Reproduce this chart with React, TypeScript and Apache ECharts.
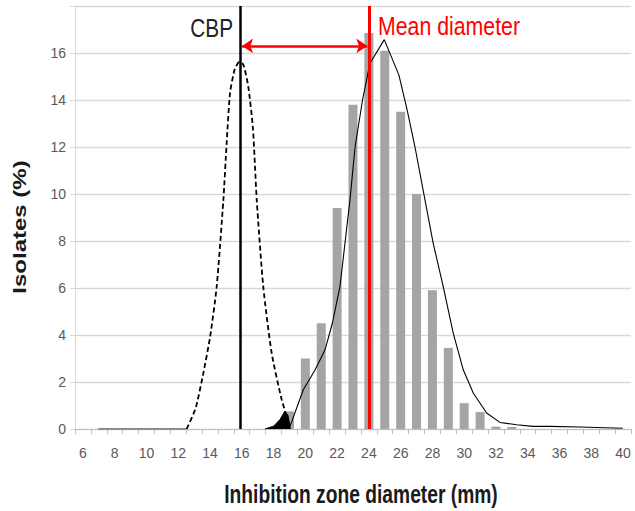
import { useEffect, useRef } from 'react';
import * as echarts from 'echarts';

const FONT = '"Liberation Sans", Arial, sans-serif';

// Category axis: inhibition zone diameters (mm)
const diameters = ['6', '7', '8', '9', '10', '11', '12', '13', '14', '15', '16', '17', '18', '19', '20', '21', '22', '23', '24', '25', '26', '27', '28', '29', '30', '31', '32', '33', '34', '35', '36', '37', '38', '39', '40'];
// Histogram of isolates (%)
const isolatePct = [0, 0, 0, 0, 0, 0, 0, 0, 0, 0, 0, 0, 0, 0.75, 3.0, 4.5, 9.4, 13.8, 16.85, 16.1, 13.5, 10.0, 5.9, 3.45, 1.1, 0.72, 0.1, 0.08, 0, 0, 0, 0, 0, 0, 0];

// Dashed curve (non-wild-type population) [diameter, %]
const dashedCurve: [number, number][] = [
  [12.53, 0], [13.1, 0.9], [13.58, 2.38], [14.0, 3.9], [14.42, 6.06], [14.84, 9.75], [15.05, 12.2], [15.26, 14.3],
  [15.55, 15.3], [15.85, 15.62], [16.1, 15.5], [16.41, 14.56], [16.7, 12.8], [16.94, 9.75], [17.35, 6.06],
  [17.88, 3.23], [18.51, 1.25], [19.03, 0.1],
];

// Solid curve (wild-type population) [diameter, %]
const solidCurve: [number, number][] = [
  [19.03, 0.1], [19.87, 1.67], [20.6, 2.5], [21.24, 3.37], [21.7, 4.5], [22.18, 6.06], [22.81, 9.75], [23.13, 12.0],
  [23.6, 14.0], [24.06, 15.55], [24.97, 16.57], [25.89, 15.06], [26.4, 13.6], [26.9, 12.01], [27.53, 9.75], [28.05, 7.9],
  [28.68, 6.06], [29.31, 4.08], [29.94, 2.52], [30.57, 1.53], [31.41, 0.68], [32.25, 0.28], [33.3, 0.18],
  [34.33, 0.11], [35.4, 0.11], [37.28, 0.085], [39.98, 0.03],
];

// Overlap region (filled black)
const overlapArea: [number, number][] = [
  [17.45, 0], [18.0, 0.12], [18.4, 0.4], [18.7, 0.75], [18.9, 0.6], [19.05, 0],
];

// Dark baseline on the left
const baseline: [number, number][] = [[6.97, 0], [12.5, 0]];

const cbp = 15.9;
const meanDiameter = 24;
const arrowLevel = 16.3;

export default function App() {
  const ref = useRef<HTMLDivElement>(null);
  useEffect(() => {
    const chart = echarts.init(ref.current!, null, { renderer: 'svg' });
    chart.setOption({
      animation: false,
      backgroundColor: '#fff',
      grid: { left: 75, right: 4, top: 6, bottom: 82 },
      xAxis: [
        {
          type: 'category',
          data: diameters,
          boundaryGap: true,
          axisLine: { lineStyle: { color: '#bfbfbf', width: 1 } },
          axisTick: { show: true, interval: 0, length: 5, lineStyle: { color: '#bfbfbf' } },
          axisLabel: { interval: 1, color: '#595959', fontSize: 14, margin: 17, fontFamily: FONT },
          splitLine: { show: false },
        },
        { type: 'value', min: 5.5, max: 40.5, show: false },
      ],
      yAxis: {
        type: 'value',
        min: 0,
        max: 18,
        interval: 2,
        axisLine: { show: true, lineStyle: { color: '#d9d9d9' } },
        axisTick: { show: true, length: 5, lineStyle: { color: '#d9d9d9' } },
        splitLine: { lineStyle: { color: '#d9d9d9', width: 1.3 } },
        axisLabel: {
          formatter: (v: number) => (v === 18 ? '' : String(v)),
          color: '#595959',
          fontSize: 14,
          margin: 9,
          fontFamily: FONT,
        },
      },
      graphic: [
        {
          type: 'text', x: 233, y: 28, scaleX: 0.8,
          style: { text: 'CBP', fill: '#222', font: '26px ' + FONT, textAlign: 'right', align: 'right', textVerticalAlign: 'middle', verticalAlign: 'middle' },
        },
        {
          type: 'text', x: 378, y: 26, scaleX: 0.835,
          style: { text: 'Mean diameter', fill: '#ff0000', font: '25.5px ' + FONT, textAlign: 'left', align: 'left', textVerticalAlign: 'middle', verticalAlign: 'middle' },
        },
        {
          type: 'text', x: 20, y: 227, rotation: Math.PI / 2, scaleY: 0.78,
          style: { text: 'Isolates (%)', fill: '#1a1a1a', font: 'bold 24px ' + FONT, textAlign: 'center', align: 'center', textVerticalAlign: 'middle', verticalAlign: 'middle' },
        },
        {
          type: 'text', x: 361, y: 494, scaleX: 0.74,
          style: { text: 'Inhibition zone diameter (mm)', fill: '#1a1a1a', font: 'bold 26px ' + FONT, textAlign: 'center', align: 'center', textVerticalAlign: 'middle', verticalAlign: 'middle' },
        },
      ],
      series: [
        {
          type: 'bar', xAxisIndex: 0, data: isolatePct, barWidth: 9,
          itemStyle: { color: '#a5a5a5' },
        },
        {
          type: 'line', xAxisIndex: 1, data: baseline, showSymbol: false,
          lineStyle: { color: '#666', width: 1.5 },
        },
        {
          type: 'line', xAxisIndex: 1, data: dashedCurve, showSymbol: false, smooth: 0.2,
          lineStyle: { color: '#000', width: 1.8, type: [5, 3] },
        },
        {
          type: 'line', xAxisIndex: 1, data: overlapArea, showSymbol: false,
          lineStyle: { color: '#000', width: 1 },
          areaStyle: { color: '#000', opacity: 1 },
        },
        {
          type: 'line', xAxisIndex: 1, data: solidCurve, showSymbol: false,
          lineStyle: { color: '#000', width: 1.1 },
        },
        {
          type: 'line', xAxisIndex: 1, data: [[cbp, arrowLevel], [meanDiameter, arrowLevel]], showSymbol: false,
          lineStyle: { opacity: 0 },
          markLine: {
            silent: true,
            symbol: 'none',
            label: { show: false },
            data: [
              { xAxis: cbp, lineStyle: { color: '#000', width: 2.5, type: 'solid' } },
              { xAxis: meanDiameter, lineStyle: { color: '#ff0000', width: 3, type: 'solid' } },
              [
                { coord: [cbp + 0.12, arrowLevel], symbol: 'arrow', symbolSize: 11 },
                { coord: [meanDiameter - 0.1, arrowLevel], symbol: 'arrow', symbolSize: 11 },
              ],
            ],
            lineStyle: { color: '#ff0000', width: 2.5, type: 'solid' },
          },
        },
      ],
    });
    return () => chart.dispose();
  }, []);
  return (
    <div
      ref={ref}
      style={{ position: 'fixed', left: 0, top: 0, width: 635, height: 511, background: '#fff' }}
    />
  );
}
